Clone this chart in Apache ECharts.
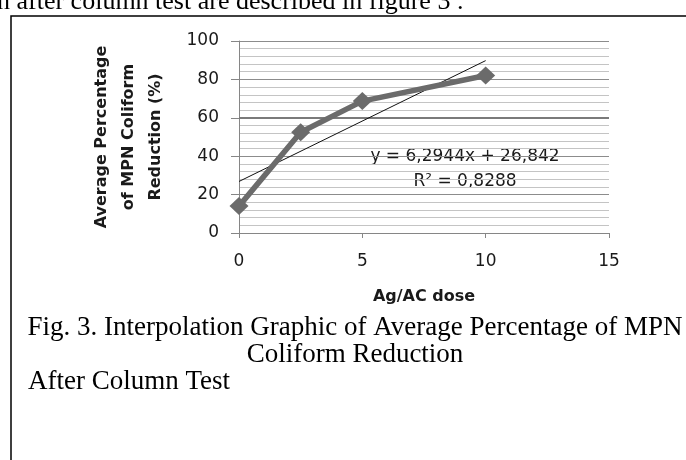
<!DOCTYPE html>
<html>
<head>
<meta charset="utf-8">
<script src="https://cdn.jsdelivr.net/npm/echarts@6/dist/echarts.min.js"></script>
<style>
html,body{margin:0;padding:0;background:#fff;}
#c{width:686px;height:460px;}
</style>
</head>
<body>
<div id="c"></div>
<script>
// ---- data ----
const doses = [0, 2.5, 5, 10];                 // Ag/AC dose
const reduction = [14, 52.5, 68.7, 82];         // average % MPN coliform reduction
const xTicks = [0, 5, 10, 15];
const yTicks = [0, 20, 40, 60, 80, 100];
const trendSlope = 6.2944;
const trendIntercept = 26.842;
const rSquaredText = "0,8288";
const emphasizedGridValue = 60;

const xAxisTitle = "Ag/AC dose";
const yAxisTitle = "Average Percentage\nof MPN Coliform\nReduction (%)";
const headText = "n after column test are described in figure 3 .";
const captionLines = [
  "Fig. 3. Interpolation Graphic of Average Percentage of MPN",
  "Coliform Reduction",
  "After Column Test"
];

const points = doses.map((d, i) => [d, reduction[i]]);
const xMinData = Math.min(...doses), xMaxData = Math.max(...doses);
const trendPoints = [xMinData, xMaxData].map(x => [x, trendSlope * x + trendIntercept]);
const eqText = "y = " + String(trendSlope).replace('.', ',') + "x + " + String(trendIntercept).replace('.', ',');

const chart = echarts.init(document.getElementById('c'), null, {renderer: 'canvas'});
const sans = 'DejaVu Sans';
const serif = 'Liberation Serif';

chart.setOption({
  backgroundColor: '#ffffff',
  animation: false,
  grid: {left: 239, right: 77, top: 41, bottom: 227},
  xAxis: {
    type: 'value', min: xTicks[0], max: xTicks[xTicks.length - 1], interval: 5,
    axisLine: {show: true, lineStyle: {color: '#868686', width: 1}},
    axisTick: {show: true, inside: false, length: 5, lineStyle: {color: '#868686'}},
    axisLabel: {fontFamily: sans, fontSize: 17, color: '#1a1a1a', margin: 20},
    splitLine: {show: false},
    name: xAxisTitle, nameLocation: 'middle', nameGap: 56,
    nameTextStyle: {fontFamily: sans, fontWeight: 'bold', fontSize: 16, color: '#1a1a1a'}
  },
  yAxis: {
    type: 'value', min: yTicks[0], max: yTicks[yTicks.length - 1], interval: 20,
    axisLine: {show: true, lineStyle: {color: '#868686', width: 1}},
    axisTick: {show: true, inside: false, length: 8, lineStyle: {color: '#868686'}},
    axisLabel: {fontFamily: sans, fontSize: 17, color: '#1a1a1a', margin: 20},
    splitLine: {show: true, lineStyle: {color: '#8c8c8c', width: 1}},
    minorTick: {show: false, splitNumber: 5},
    minorSplitLine: {show: true, lineStyle: {color: '#c4c4c4', width: 1}},
    name: yAxisTitle, nameLocation: 'middle', nameGap: 70, nameRotate: 90,
    nameTextStyle: {fontFamily: sans, fontWeight: 'bold', fontSize: 16, lineHeight: 27, color: '#1a1a1a', align: 'center'}
  },
  series: [
    {
      type: 'line', data: trendPoints, symbol: 'none', silent: true, z: 3,
      lineStyle: {color: '#111111', width: 1},
      markLine: {
        silent: true, symbol: 'none', label: {show: false},
        lineStyle: {color: '#7a7a7a', width: 2, type: 'solid'},
        data: [{yAxis: emphasizedGridValue}], z: 1
      }
    },
    {
      type: 'line', data: points, symbol: 'diamond', symbolSize: [19, 18], z: 4,
      lineStyle: {color: '#6b6b6b', width: 5.5},
      itemStyle: {color: '#6b6b6b'}
    }
  ],
  graphic: [
    {type: 'rect', shape: {x: 11, y: 16, width: 760, height: 600}, style: {fill: 'none', stroke: '#000', lineWidth: 1.5}, silent: true},
    {type: 'text', x: -3, y: 15, style: {text: headText, font: '26px "' + serif + '"', fill: '#000', textAlign: 'left', textVerticalAlign: 'bottom'}},
    {type: 'text', x: 465, y: 157, style: {text: eqText, font: '17px "' + sans + '"', fill: '#1a1a1a', textAlign: 'center', textVerticalAlign: 'middle'}},
    {type: 'text', x: 465, y: 182, style: {text: "R² = " + rSquaredText, font: '17px "' + sans + '"', fill: '#1a1a1a', textAlign: 'center', textVerticalAlign: 'middle'}},
    {type: 'text', x: 355, y: 328, style: {text: captionLines[0], font: '27px "' + serif + '"', fill: '#000', textAlign: 'center', textVerticalAlign: 'middle'}},
    {type: 'text', x: 355, y: 355, style: {text: captionLines[1], font: '27px "' + serif + '"', fill: '#000', textAlign: 'center', textVerticalAlign: 'middle'}},
    {type: 'text', x: 28, y: 382, style: {text: captionLines[2], font: '27px "' + serif + '"', fill: '#000', textAlign: 'left', textVerticalAlign: 'middle'}}
  ]
});
</script>
</body>
</html>
